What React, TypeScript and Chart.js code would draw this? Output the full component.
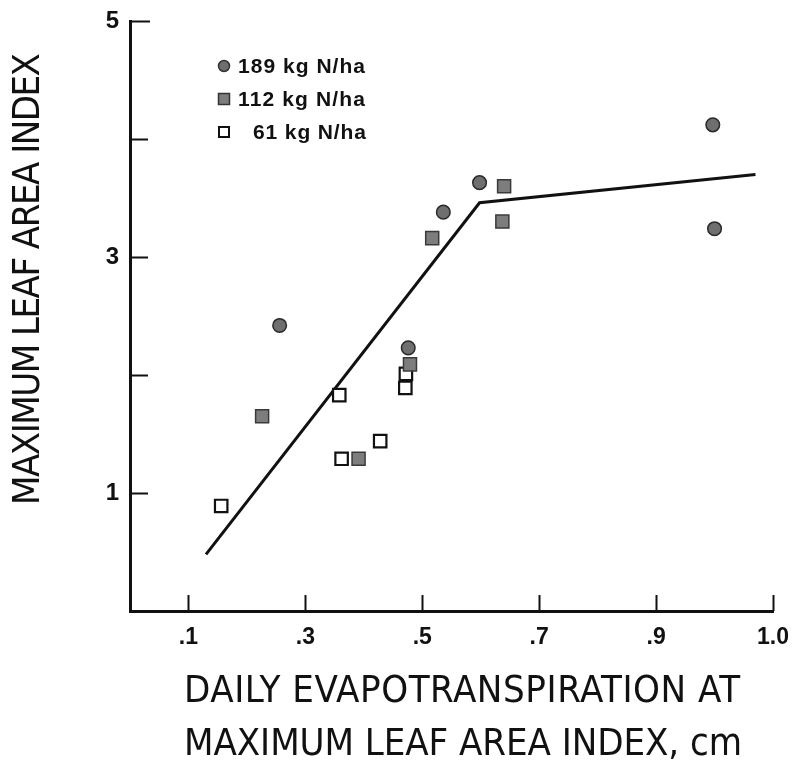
import React, { useEffect, useRef } from "react";
import { Chart, registerables } from "chart.js";

Chart.register(...registerables);

// Daily evapotranspiration (cm) vs. maximum leaf area index, by N rate
const n189X = [0.256, 0.476, 0.536, 0.598, 0.997, 1.0];
const n189Y = [2.42, 2.23, 3.38, 3.63, 4.12, 3.24];

const n112X = [0.226, 0.391, 0.479, 0.517, 0.64, 0.637];
const n112Y = [1.65, 1.29, 2.09, 3.16, 3.6, 3.3];

const n61X = [0.156, 0.362, 0.358, 0.428, 0.471, 0.472];
const n61Y = [0.89, 1.29, 1.83, 1.44, 1.89, 2.01];

// Fitted two-segment relation
const fitX = [0.13, 0.598, 1.07];
const fitY = [0.48, 3.46, 3.7];

const legendLabels = ["189 kg N/ha", "112 kg N/ha", "61 kg N/ha"];

const xTickValues = [0.1, 0.3, 0.5, 0.7, 0.9, 1.1];
const xTickLabels = [".1", ".3", ".5", ".7", ".9", "1.0"];
const yTickValues = [0, 1, 2, 3, 4, 5];
const yTickLabels = ["", "1", "", "3", "", "5"];

const yTitle = "MAXIMUM LEAF AREA INDEX";
const xTitleLines = ["DAILY EVAPOTRANSPIRATION AT", "MAXIMUM LEAF AREA INDEX, cm"];

const pts = (xs: number[], ys: number[]) => xs.map((x, i) => ({ x, y: ys[i] }));

const TITLE_FONT = '38px "DejaVu Sans Condensed", "Liberation Sans Narrow", "DejaVu Sans", sans-serif';
const LEGEND_FONT = 'bold 21px "Liberation Sans", Arial, sans-serif';
const TICK_FAMILY = '"Liberation Sans", Arial, sans-serif';

// Draws text stretched (by letter spacing when available) to a given width
function fitText(
  ctx: CanvasRenderingContext2D,
  text: string,
  width: number,
  x: number,
  cy: number,
  align: "center" | "left" = "center"
) {
  ctx.textAlign = align;
  ctx.textBaseline = "middle";
  const anyCtx = ctx as any;
  if ("letterSpacing" in anyCtx) {
    anyCtx.letterSpacing = "0px";
    const w = ctx.measureText(text).width;
    const sp = (width - w) / Math.max(1, text.length - 1);
    anyCtx.letterSpacing = sp.toFixed(2) + "px";
    ctx.fillText(text, align === "center" ? x + sp / 2 : x, cy);
    anyCtx.letterSpacing = "0px";
  } else {
    const w = ctx.measureText(text).width;
    ctx.save();
    ctx.translate(x, cy);
    ctx.scale(width / w, 1);
    ctx.fillText(text, 0, 0);
    ctx.restore();
  }
}

const decorPlugin = {
  id: "decor",
  afterDraw(chart: any) {
    const ctx: CanvasRenderingContext2D = chart.ctx;
    const xs = chart.scales.x;
    const ys = chart.scales.y;
    const area = chart.chartArea;
    ctx.save();
    ctx.strokeStyle = "#111";
    ctx.lineWidth = 2;
    // inward tick marks
    xTickValues.forEach((v) => {
      const px = Math.round(xs.getPixelForValue(v)) + 0.5;
      ctx.beginPath();
      ctx.moveTo(px, area.bottom);
      ctx.lineTo(px, area.bottom - 16);
      ctx.stroke();
    });
    yTickValues.slice(1).forEach((v) => {
      const py = Math.round(ys.getPixelForValue(v)) + 0.5;
      ctx.beginPath();
      ctx.moveTo(area.left, py);
      ctx.lineTo(area.left + (v === 5 ? 20 : 18), py);
      ctx.stroke();
    });

    // legend
    const lx = 224;
    const rows = [66, 99, 132];
    ctx.lineWidth = 1.5;
    ctx.beginPath();
    ctx.arc(lx, rows[0], 5.5, 0, Math.PI * 2);
    ctx.fillStyle = "#6f6f6f";
    ctx.fill();
    ctx.strokeStyle = "#333";
    ctx.stroke();
    ctx.fillStyle = "#7d7d7d";
    ctx.fillRect(lx - 5.5, rows[1] - 5.5, 11, 11);
    ctx.strokeRect(lx - 5.5, rows[1] - 5.5, 11, 11);
    ctx.lineWidth = 2;
    ctx.strokeStyle = "#111";
    ctx.fillStyle = "#fff";
    ctx.fillRect(lx - 5, rows[2] - 5, 10, 10);
    ctx.strokeRect(lx - 5, rows[2] - 5, 10, 10);

    ctx.font = LEGEND_FONT;
    ctx.fillStyle = "#111";
    fitText(ctx, legendLabels[0], 127, 238, rows[0] + 1, "left");
    fitText(ctx, legendLabels[1], 127, 238, rows[1] + 1, "left");
    fitText(ctx, legendLabels[2], 113, 253, rows[2] + 1, "left");

    // axis titles
    ctx.fillStyle = "#111";
    ctx.font = TITLE_FONT;
    fitText(ctx, xTitleLines[0], 556, 462, 692);
    fitText(ctx, xTitleLines[1], 558, 463, 745);
    ctx.save();
    ctx.translate(29, 279);
    ctx.rotate(-Math.PI / 2);
    fitText(ctx, yTitle, 452, 0, 0);
    ctx.restore();
    ctx.restore();
  },
};

export default function App() {
  const ref = useRef<HTMLCanvasElement | null>(null);

  useEffect(() => {
    const canvas = ref.current;
    if (!canvas) return;
    const chart = new Chart(canvas, {
      type: "scatter",
      data: {
        datasets: [
          {
            label: legendLabels[0],
            data: pts(n189X, n189Y),
            pointStyle: "circle",
            pointRadius: 6.8,
            backgroundColor: "#6f6f6f",
            borderColor: "#2a2a2a",
            borderWidth: 1.5,
          },
          {
            label: legendLabels[1],
            data: pts(n112X, n112Y),
            pointStyle: "rect",
            pointRadius: 9.2,
            backgroundColor: "#7d7d7d",
            borderColor: "#3a3a3a",
            borderWidth: 1.5,
          },
          {
            label: legendLabels[2],
            data: pts(n61X, n61Y),
            pointStyle: "rect",
            pointRadius: 8.8,
            backgroundColor: "#fff",
            borderColor: "#111",
            borderWidth: 2.2,
          },
          {
            type: "line",
            label: "fit",
            data: pts(fitX, fitY),
            borderColor: "#111",
            borderWidth: 3,
            pointRadius: 0,
            fill: false,
            tension: 0,
          } as any,
        ],
      },
      options: {
        responsive: false,
        animation: false,
        devicePixelRatio: 1,
        layout: { padding: { left: 0, right: 20, top: 21, bottom: 0 } },
        plugins: {
          legend: { display: false },
          tooltip: { enabled: false },
        },
        scales: {
          x: {
            type: "linear",
            min: 0,
            max: 1.1,
            afterFit(scale: any) {
              scale.height = 157;
              scale.paddingLeft = 0;
              scale.paddingRight = 0;
            },
            afterBuildTicks(scale: any) {
              scale.ticks = xTickValues.map((v) => ({ value: v }));
            },
            ticks: {
              padding: 13,
              color: "#111",
              font: { family: TICK_FAMILY, size: 23, weight: "bold" },
              callback: (v: any) => {
                const i = xTickValues.findIndex((t) => Math.abs(t - Number(v)) < 1e-6);
                return i >= 0 ? xTickLabels[i] : "";
              },
            },
            grid: { display: true, drawOnChartArea: false, drawTicks: false },
            border: { display: true, color: "#111", width: 3 },
          },
          y: {
            type: "linear",
            min: 0,
            max: 5,
            afterFit(scale: any) {
              scale.width = 130;
              scale.paddingTop = 0;
              scale.paddingBottom = 0;
            },
            afterBuildTicks(scale: any) {
              scale.ticks = yTickValues.map((v) => ({ value: v }));
            },
            ticks: {
              padding: 11,
              color: "#111",
              font: { family: TICK_FAMILY, size: 24, weight: "bold" },
              callback: (v: any) => {
                const i = yTickValues.indexOf(Number(v));
                return i >= 0 ? yTickLabels[i] : "";
              },
            },
            grid: { display: true, drawOnChartArea: false, drawTicks: false },
            border: { display: true, color: "#111", width: 3 },
          },
        },
      },
      plugins: [decorPlugin],
    });
    return () => chart.destroy();
  }, []);

  return (
    <div style={{ position: "fixed", left: 0, top: 0, width: 793, height: 768, background: "#fff" }}>
      <canvas ref={ref} width={793} height={768} style={{ display: "block" }} />
    </div>
  );
}
